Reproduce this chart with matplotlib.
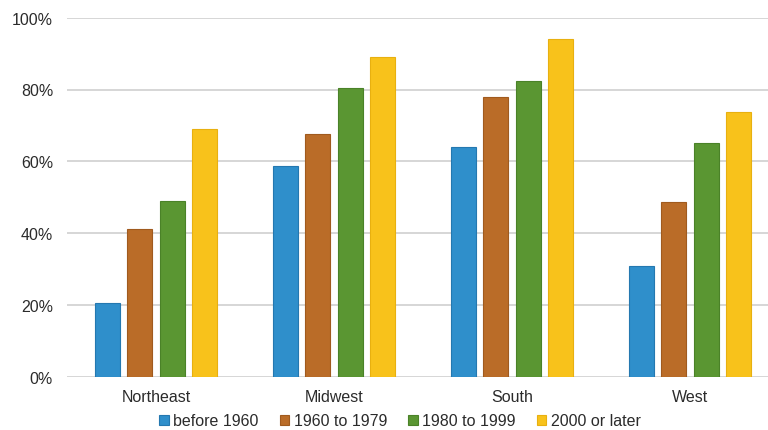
import matplotlib.pyplot as plt
import numpy as np

plt.rcParams['font.family'] = ['Liberation Sans', 'DejaVu Sans']

regions = ["Northeast", "Midwest", "South", "West"]
periods = ["before 1960", "1960 to 1979", "1980 to 1999", "2000 or later"]
before_1960 = [20.4, 58.6, 63.9, 30.8]
from_1960_1979 = [41.1, 67.6, 78.0, 48.7]
from_1980_1999 = [49.0, 80.4, 82.3, 65.1]
after_2000 = [69.0, 89.0, 94.1, 73.6]

series = [before_1960, from_1960_1979, from_1980_1999, after_2000]
colors = ["#2F8FCB", "#BA6C28", "#5A9632", "#F8C21B"]
edges = ["#2478B0", "#A05A1E", "#4A8228", "#E8B010"]

fig = plt.figure(figsize=(7.68, 4.31), dpi=100)
# plot area runs a little past the right edge of the figure
ax = fig.add_axes([67 / 768, (431 - 377.7) / 431, 712 / 768, 359 / 431])

x = np.arange(len(regions))
step = 32.5 / 178
width = 25 / 178
for i, (vals, c, e, lab) in enumerate(zip(series, colors, edges, periods)):
    ax.bar(x + (i - 1.5) * step, vals, width, color=c, edgecolor=e,
           linewidth=0.8, label=lab, zorder=3)

ax.set_xlim(-0.5, 3.5)
ax.set_ylim(0, 100)
ax.set_yticks(range(0, 101, 20))
ax.set_yticklabels([f"{v}%" for v in range(0, 101, 20)])
ax.grid(axis='y', color='#D0D0D0', linewidth=1.2, zorder=0)
ax.set_xticks(x)
ax.set_xticklabels(regions)
for s in ax.spines.values():
    s.set_visible(False)
ax.tick_params(axis='both', length=0, labelsize=11.5, colors='#2B2B2B')
ax.tick_params(axis='y', pad=10)
ax.tick_params(axis='x', pad=9)

fig.legend(loc='center', bbox_to_anchor=(400 / 768, 1 - 422 / 431), ncol=4,
           frameon=False, fontsize=11.5, handlelength=0.6, handleheight=0.6,
           handletextpad=0.3, columnspacing=1.3, labelcolor='#2B2B2B')

fig.savefig("out.png", dpi=100)
